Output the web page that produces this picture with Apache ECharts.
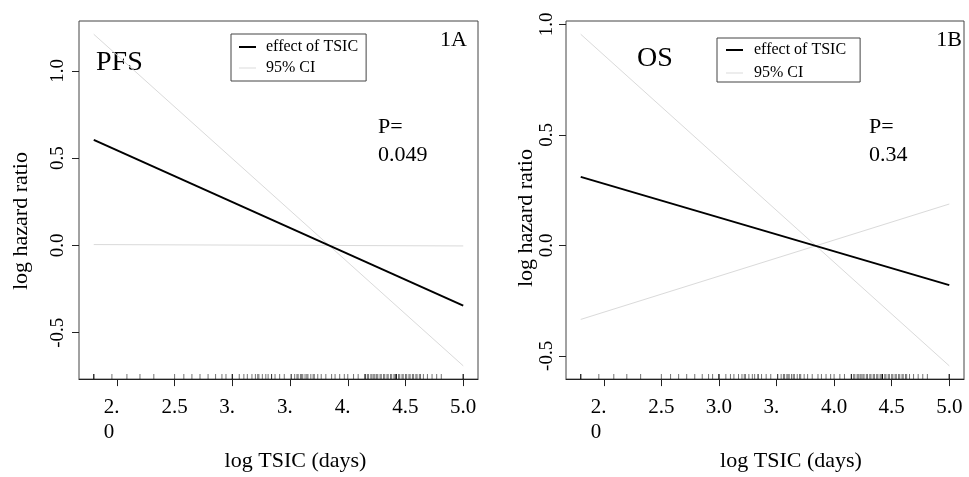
<!DOCTYPE html>
<html>
<head>
<meta charset="utf-8">
<script src="https://cdn.jsdelivr.net/npm/echarts@6/dist/echarts.min.js"></script>
<style>
html,body{margin:0;padding:0;background:#fff;}
#chart{width:969px;height:477px;}
</style>
</head>
<body>
<div id="chart"></div>
<script>
// ---- data ----
const logTSIC = [1.8, 5.0];                 // x endpoints of the fitted lines
const pfsEffect = [0.605, -0.345];
const pfsCIUpper = [1.21, -0.69];
const pfsCILower = [0.005, -0.003];
const osEffect = [0.31, -0.18];
const osCIUpper = [0.955, -0.545];
const osCILower = [-0.335, 0.187];

const xTicks = [2.0, 2.5, 3.0, 3.5, 4.0, 4.5, 5.0];
const pfsXTickLabels = ['2.\n0', '2.5', '3.', '3.', '4.', '4.5', '5.0'];
const osXTickLabels = ['2.\n0', '2.5', '3.0', '3.', '4.0', '4.5', '5.0'];
const yTicks = [-0.5, 0.0, 0.5, 1.0];
const yTickLabels = ['-0.5', '0.0', '0.5', '1.0'];

// rug of observed log TSIC values (duplicates where ticks look darker)
const rugLogTSIC = [
  1.80, 1.80, 1.80, 1.957, 2.087, 2.20, 2.32, 2.50, 2.58, 2.65, 2.72, 2.79, 2.855,
  2.91, 2.945, 3.00, 3.00, 3.00, 3.06, 3.10, 3.13, 3.17, 3.20, 3.22, 3.23, 3.26, 3.29,
  3.31, 3.34, 3.34, 3.37, 3.41, 3.45, 3.51, 3.51, 3.54, 3.56, 3.57, 3.59, 3.60, 3.61,
  3.63, 3.645, 3.655, 3.68, 3.70, 3.71, 3.74, 3.77, 3.81, 3.86, 3.89, 3.93, 3.97,
  4.00, 4.05, 4.09, 4.15, 4.15, 4.15, 4.17, 4.18, 4.20, 4.21, 4.225, 4.235, 4.25,
  4.26, 4.28, 4.29, 4.31, 4.32, 4.34, 4.35, 4.37, 4.38, 4.40, 4.41,
  4.42, 4.42, 4.42, 4.42, 4.44, 4.45, 4.47, 4.48, 4.50, 4.51, 4.53, 4.54, 4.56,
  4.57, 4.59, 4.60, 4.62, 4.63, 4.655, 4.69, 4.73, 4.77, 4.81, 5.0, 5.0, 5.0
];

// ---- helpers ----
const FONT = 'Liberation Serif';
function ext(arrs) {
  const all = [].concat(...arrs);
  const lo = Math.min(...all), hi = Math.max(...all), r = hi - lo;
  return [lo - 0.04 * r, hi + 0.04 * r];
}
const xExt = ext([logTSIC]);
const pfsYExt = ext([pfsEffect, pfsCIUpper, pfsCILower]);
const osYExt = ext([osEffect, osCIUpper, osCILower]);

function pair(xs, ys) { return xs.map((x, i) => [x, ys[i]]); }
function xLabelFmt(labels) {
  return function (v) {
    const i = xTicks.findIndex(t => Math.abs(t - v) < 1e-9);
    if (i < 0) return '';
    return labels[i].split('\n').map(line => {
      const pad = '0.0'.slice(line.length);
      return pad ? line + '{h|' + pad + '}' : line;
    }).join('\n');
  };
}
function yLabelFmt(v) {
  const i = yTicks.findIndex(t => Math.abs(t - v) < 1e-9);
  return i < 0 ? '' : yTickLabels[i];
}

const grids = [
  { left: 79, top: 21, width: 399, height: 378 },
  { left: 566, top: 21, width: 398, height: 378 }
];

function xAxis(gi, labels, namePad) {
  return {
    type: 'value', gridIndex: gi, min: xExt[0], max: xExt[1],
    splitLine: { show: false },
    axisLine: { show: true, onZero: false, lineStyle: { color: '#222', width: 1 } },
    axisTick: { show: true, length: 7, lineStyle: { color: '#222' }, customValues: xTicks },
    axisLabel: {
      customValues: xTicks, formatter: xLabelFmt(labels), margin: 16,
      fontFamily: FONT, fontSize: 21, color: '#000', lineHeight: 25,
      rich: { h: { color: 'transparent', fontFamily: FONT, fontSize: 21, lineHeight: 25 } }
    },
    name: 'log TSIC (days)', nameLocation: 'middle', nameGap: 46,
    nameTextStyle: { fontFamily: FONT, fontSize: 22, color: '#000', padding: [0, 0, 0, namePad] }
  };
}
function yAxis(gi, e, margin, nameGap, namePad) {
  return {
    type: 'value', gridIndex: gi, min: e[0], max: e[1],
    splitLine: { show: false },
    axisLine: { show: false },
    axisTick: { show: true, length: 7, lineStyle: { color: '#222' }, customValues: yTicks },
    axisLabel: {
      customValues: yTicks, formatter: yLabelFmt, rotate: 90, margin: margin,
      fontFamily: FONT, fontSize: 19, color: '#000'
    },
    name: 'log hazard ratio', nameLocation: 'middle', nameGap: nameGap, nameRotate: 90,
    nameTextStyle: { fontFamily: FONT, fontSize: 22, color: '#000', padding: [0, namePad, 0, 0] }
  };
}

function lineSeries(name, gi, ys, color, width) {
  return {
    type: 'line', name: name, xAxisIndex: gi, yAxisIndex: gi,
    data: pair(logTSIC, ys), symbol: 'none', silent: true, animation: false,
    lineStyle: { color: color, width: width }, itemStyle: { color: color }
  };
}
function rugSeries(gi, yMin) {
  return {
    type: 'scatter', name: 'rug', xAxisIndex: gi, yAxisIndex: gi, clip: false,
    data: rugLogTSIC.map(x => [x, yMin]), symbol: 'rect', symbolSize: [1, 5],
    symbolOffset: [0, -2.5], itemStyle: { color: '#000', opacity: 0.55 },
    silent: true, animation: false
  };
}

const CI = '#dadada';
const legendData = [
  { name: 'effect of TSIC', icon: 'path://M0,0H17V2H0Z' },
  { name: '95% CI', icon: 'path://M0,0H17V1H0Z' }
];
const legendCommon = {
  orient: 'vertical', itemWidth: 17, itemHeight: 14,
  borderColor: '#444', borderWidth: 1, borderRadius: 0,
  selectedMode: false, data: legendData,
  textStyle: { fontFamily: FONT, fontSize: 16, color: '#000' }
};

function txt(x, y, s, size, align) {
  return { type: 'text', x: x, y: y, style: { text: s, fontFamily: FONT, fontSize: size, fill: '#000', align: align || 'left', verticalAlign: 'middle' } };
}

const option = {
  backgroundColor: '#fff',
  animation: false,
  grid: grids.map(g => Object.assign({ show: true, borderColor: '#444', borderWidth: 1, backgroundColor: 'transparent' }, g)),
  xAxis: [xAxis(0, pfsXTickLabels, 34), xAxis(1, osXTickLabels, 52)],
  yAxis: [yAxis(0, pfsYExt, 11, 47, 42), yAxis(1, osYExt, 9, 29, 36)],
  legend: [
    Object.assign({}, legendCommon, { left: 231, top: 34, itemGap: 5, padding: [5, 8, 5, 8],
      textStyle: Object.assign({}, legendCommon.textStyle, { padding: [0, 0, 0, 5] }) }),
    Object.assign({}, legendCommon, { left: 717, top: 38, itemGap: 7, padding: [4, 14, 1, 9],
      textStyle: Object.assign({}, legendCommon.textStyle, { padding: [0, 0, 0, 6] }) })
  ],
  series: [
    lineSeries('95% CI', 0, pfsCIUpper, CI, 1),
    lineSeries('95% CI', 0, pfsCILower, CI, 1),
    lineSeries('effect of TSIC', 0, pfsEffect, '#000', 2),
    rugSeries(0, pfsYExt[0]),
    lineSeries('95% CI', 1, osCIUpper, CI, 1),
    lineSeries('95% CI', 1, osCILower, CI, 1),
    lineSeries('effect of TSIC', 1, osEffect, '#000', 2),
    rugSeries(1, osYExt[0])
  ],
  graphic: [
    txt(96, 63, 'PFS', 28),
    txt(467, 40, '1A', 22, 'right'),
    txt(378, 127, 'P=', 22),
    txt(378, 155, '0.049', 22),
    txt(637, 59, 'OS', 28),
    txt(962, 40, '1B', 22, 'right'),
    txt(869, 127, 'P=', 22),
    txt(869, 155, '0.34', 22)
  ]
};

const chart = echarts.init(document.getElementById('chart'), null, { renderer: 'canvas' });
chart.setOption(option);
</script>
</body>
</html>
